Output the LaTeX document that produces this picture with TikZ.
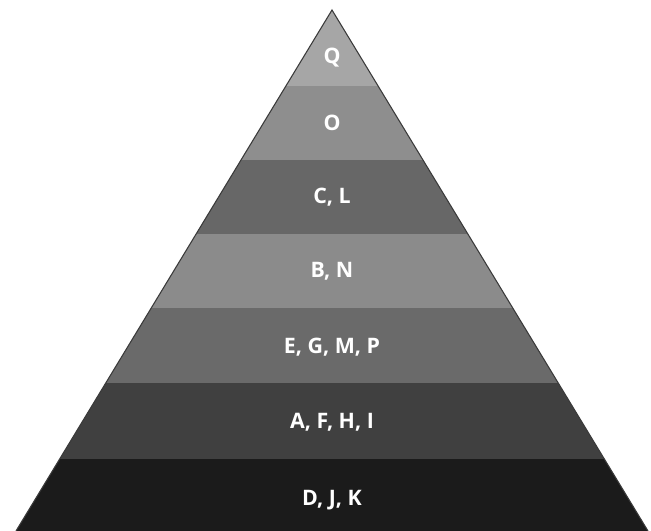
\documentclass[tikz,border=0pt]{standalone}
\usepackage{fontspec}
\setmainfont{Open Sans}
\usepackage{xcolor}
\definecolor{tierQ}{HTML}{A6A6A6}
\definecolor{tierO}{HTML}{8E8E8E}
\definecolor{tierCL}{HTML}{676767}
\definecolor{tierBN}{HTML}{8B8B8B}
\definecolor{tierEG}{HTML}{6A6A6A}
\definecolor{tierAF}{HTML}{404040}
\definecolor{tierDJ}{HTML}{1B1B1B}
\definecolor{edgegray}{HTML}{3A3A3A}

\begin{document}
\begin{tikzpicture}[
      x=0.75pt, y=-0.75pt,
      tier/.style={font=\fontsize{16}{19}\selectfont\bfseries, text=white, align=center},
      side/.style={draw=edgegray, line width=0.8pt},
    ]
    \useasboundingbox (0, 0) rectangle (651, 531);

    % Pyramid corners
    \coordinate (apex) at (332, 10);
    \coordinate (baseL) at (16, 531);
    \coordinate (baseR) at (648, 531);

    % Tiers
    \begin{scope}
      \clip (apex) -- (baseL) -- (baseR) -- cycle;
      \fill[tierQ] (0, 0) rectangle (651, 86);
      \fill[tierO] (0, 86) rectangle (651, 160);
      \fill[tierCL] (0, 160) rectangle (651, 234);
      \fill[tierBN] (0, 234) rectangle (651, 308);
      \fill[tierEG] (0, 308) rectangle (651, 383);
      \fill[tierAF] (0, 383) rectangle (651, 459);
      \fill[tierDJ] (0, 459) rectangle (651, 531);
    \end{scope}
    \draw[side] (baseL) -- (apex) -- (baseR);

    % Labels
    \node[tier] (q) at (332, 58) {Q};
    \node[tier] (o) at (332, 123) {O};
    \node[tier] (cl) at (332, 197) {C, L};
    \node[tier] (bn) at (332, 271) {B, N};
    \node[tier] (egmp) at (332, 347) {E, G, M, P};
    \node[tier] (afhi) at (332, 422) {A, F, H, I};
    \node[tier] (djk) at (332, 500) {D, J, K};
  \end{tikzpicture}
\end{document}
